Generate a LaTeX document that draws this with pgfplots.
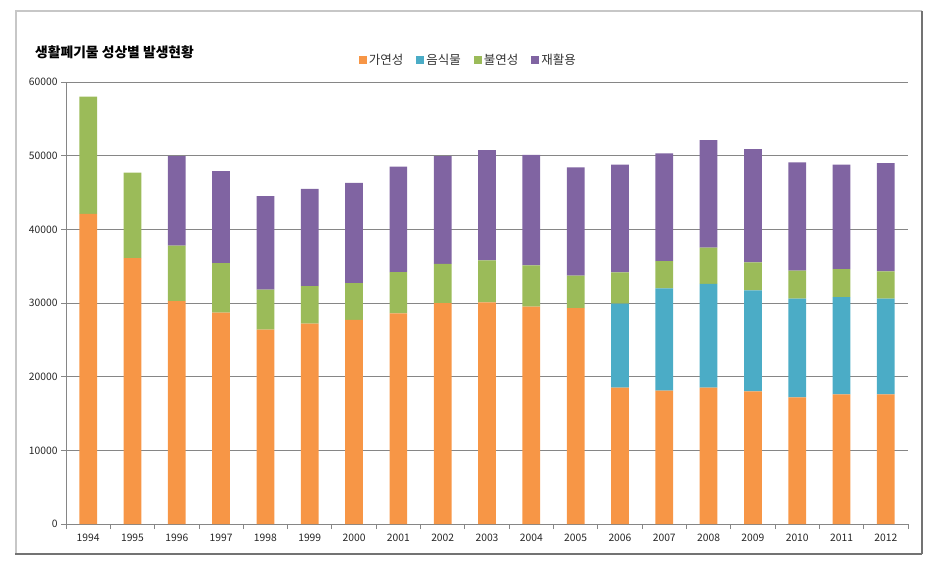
\documentclass[border=0pt]{standalone}
\usepackage{pgfplots}
\pgfplotsset{compat=1.18}
\usepackage{pgfplotstable}
\usepackage{fontspec}
\setmainfont{Noto Sans CJK KR}
\definecolor{cOrange}{HTML}{F79646}
\definecolor{cBlue}{HTML}{4BACC6}
\definecolor{cGreen}{HTML}{9BBB59}
\definecolor{cPurple}{HTML}{8064A2}
\definecolor{cGrid}{HTML}{868686}

\pgfplotstableread{
x year gayeon eumsik bulyeon jaehwal
0  1994 42100 0     15900 0
1  1995 36100 0     11600 0
2  1996 30250 0     7550  12150
3  1997 28700 0     6700  12500
4  1998 26400 0     5400  12700
5  1999 27200 0     5100  13200
6  2000 27700 0     5000  13600
7  2001 28600 0     5600  14300
8  2002 30000 0     5300  14650
9  2003 30100 0     5700  14950
10 2004 29500 0     5600  15000
11 2005 29300 0     4400  14700
12 2006 18500 11400 4250  14650
13 2007 18100 13900 3700  14600
14 2008 18500 14100 4900  14600
15 2009 18000 13700 3800  15400
16 2010 17200 13400 3800  14700
17 2011 17600 13200 3800  14200
18 2012 17600 13000 3700  14700
}\datatable

\begin{document}
\begin{tikzpicture}[x=1pt,y=1pt]
\path[use as bounding box] (0,0) rectangle (931,560);
% chart frame
\draw[color=black!22, line width=2pt] (15,549) -- (922,549);
\draw[color=black!22, line width=2pt] (16,549) -- (16,6);
\draw[color=black!55, line width=1.2pt] (922,549) -- (922,6);
\draw[color=black!55, line width=1.2pt] (15,6) -- (922,6);
% title
\node[anchor=west, font=\fontsize{13.8}{16}\selectfont\bfseries, inner sep=0pt] at (35,508) {생활폐기물 성상별 발생현황};
\begin{axis}[
  at={(66pt,36pt)}, anchor=south west,
  scale only axis, width=842pt, height=442pt,
  ybar stacked, bar width=0.4,
  xmin=-0.5, xmax=18.5, ymin=0, ymax=60000,
  axis x line*=bottom, axis y line*=left,
  axis line style={cGrid, line width=0.8pt},
  xtick=data,
  xticklabels={1994,1995,1996,1997,1998,1999,2000,2001,2002,2003,2004,2005,2006,2007,2008,2009,2010,2011,2012},
  major x tick style={draw=none},
  minor xtick={-0.5,0.5,...,18.5},
  minor x tick style={cGrid, line width=0.8pt},
  minor tick length=5pt,
  ytick={0,10000,...,60000},
  major tick length=5pt,
  y tick style={cGrid, line width=0.8pt},
  tick align=outside,
  ymajorgrids, grid style={cGrid, line width=0.8pt},
  scaled y ticks=false,
  yticklabel style={/pgf/number format/fixed, /pgf/number format/1000 sep={}},
  /pgf/number format/assume math mode=true,
  tick label style={font=\fontsize{10.3}{12}\selectfont, text=black!85},
  xticklabel style={yshift=-1pt},
  legend columns=4,
  legend style={at={(0.478,1.05)}, anchor=center, draw=none, fill=none,
    font=\fontsize{12.5}{14}\selectfont, text=black!80,
    /tikz/every even column/.append style={column sep=11pt}},
]
\addplot[fill=cOrange, draw=none, legend image code/.code={\fill[cOrange] (0pt,-4pt) rectangle (8pt,4pt);}] table[x=x, y=gayeon] {\datatable};
\addplot[fill=cBlue, draw=none, legend image code/.code={\fill[cBlue] (0pt,-4pt) rectangle (8pt,4pt);}] table[x=x, y=eumsik] {\datatable};
\addplot[fill=cGreen, draw=none, legend image code/.code={\fill[cGreen] (0pt,-4pt) rectangle (8pt,4pt);}] table[x=x, y=bulyeon] {\datatable};
\addplot[fill=cPurple, draw=none, legend image code/.code={\fill[cPurple] (0pt,-4pt) rectangle (8pt,4pt);}] table[x=x, y=jaehwal] {\datatable};
\legend{가연성,음식물,불연성,재활용}
\end{axis}
\end{tikzpicture}
\end{document}
